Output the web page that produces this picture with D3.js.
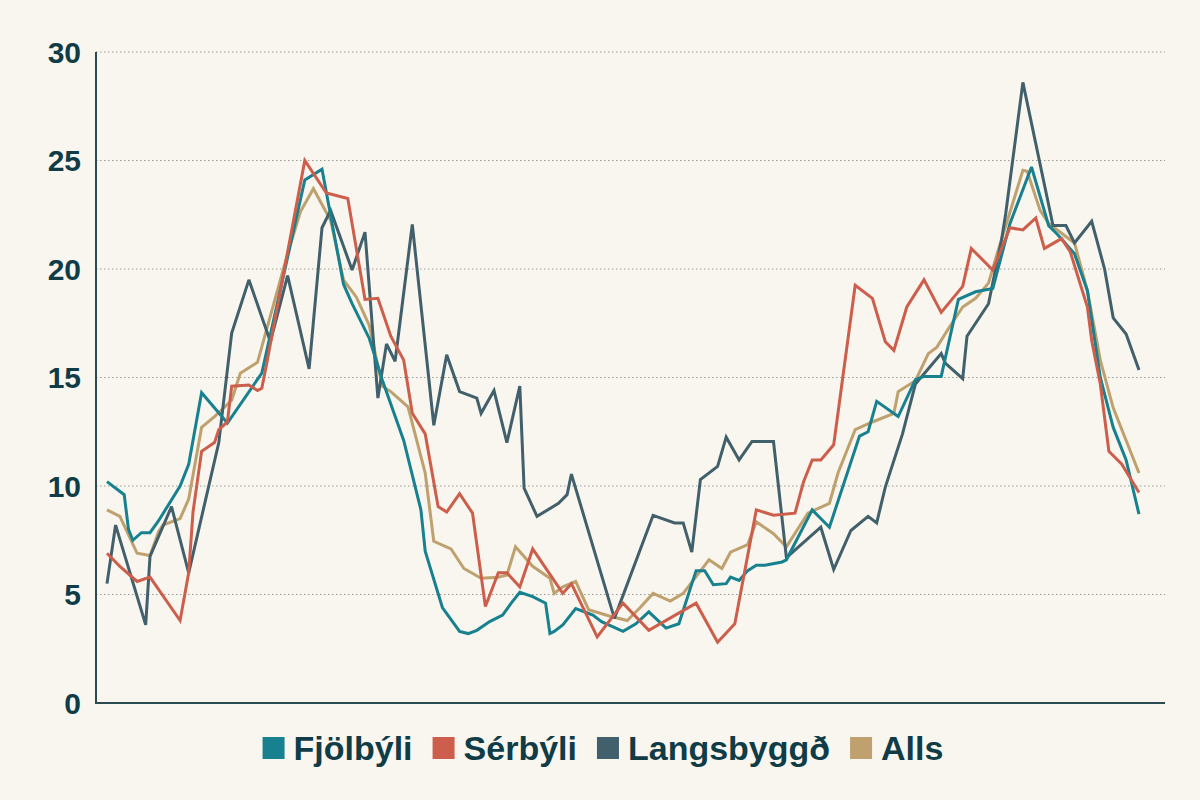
<!DOCTYPE html>
<html>
<head>
<meta charset="utf-8">
<script src="https://cdn.jsdelivr.net/npm/d3@7"></script>
<style>
  html, body { margin: 0; padding: 0; background: #f9f6ef; }
  svg { display: block; }
  .tick-label { font-family: "Liberation Sans", Arial, sans-serif; font-weight: 700; font-size: 30px; fill: #0f3c46; }
  .legend-label { font-family: "Liberation Sans", Arial, sans-serif; font-weight: 700; font-size: 34px; fill: #0f3c46; }
</style>
</head>
<body>
<div id="chart"></div>
<script>
// [period, value] pairs (period = month index, 0..240)
const fjolbyli = [
  [0, 10.2], [4, 9.6], [5, 8.0], [6, 7.5], [8, 7.85], [10, 7.85], [12, 8.4], [17, 10.0], [19, 11.0],
  [22, 14.3], [28, 12.9], [36, 15.2], [46, 24.1], [50, 24.6], [55, 19.3], [57, 18.4], [61, 16.8],
  [64, 14.9], [69, 12.1], [73, 8.9], [74, 7.0], [78, 4.4], [82, 3.3], [84, 3.2], [86, 3.35],
  [89, 3.75], [92, 4.05], [94, 4.6], [96, 5.1], [99, 4.9], [102, 4.6], [103, 3.2], [104, 3.3],
  [106, 3.6], [109, 4.35], [113, 4.05], [115, 3.75], [120, 3.3], [123, 3.65], [126, 4.2],
  [130, 3.45], [133, 3.65], [137, 6.1], [139, 6.1], [141, 5.45], [144, 5.5], [145, 5.8],
  [147, 5.65], [149, 6.1], [151, 6.35], [153, 6.35], [157, 6.5], [158, 6.6], [164, 8.9],
  [168, 8.1], [175, 12.3], [177, 12.5], [179, 13.9], [184, 13.2], [188, 14.9], [190, 15.05],
  [194, 15.05], [198, 18.6], [202, 18.95], [206, 19.1], [210, 22.1], [215, 24.7], [219, 22.0],
  [221, 21.6], [225, 20.7], [228, 19.0], [231, 15.0], [234, 12.7], [237, 11.2], [240, 8.7]
];

const serbyli = [
  [0, 6.9], [3, 6.3], [7, 5.6], [10, 5.8], [17, 3.8], [19, 6.0], [20, 8.8], [22, 11.6], [25, 12.0],
  [26, 12.6], [28, 12.95], [29, 14.6], [33, 14.65], [35, 14.4], [36, 14.5], [37, 15.5], [46, 25.0],
  [51, 23.5], [56, 23.25], [60, 18.6], [63, 18.65], [66, 16.9], [69, 15.8], [71, 13.35], [74, 12.4],
  [77, 9.05], [79, 8.8], [82, 9.65], [85, 8.75], [88, 4.45], [91, 6.0], [93, 6.0], [96, 5.35],
  [99, 7.1], [106, 5.05], [108, 5.5], [114, 3.05], [120, 4.6], [126, 3.35], [137, 4.6], [142, 2.8],
  [146, 3.65], [151, 8.9], [155, 8.65], [160, 8.75], [162, 10.2], [164, 11.2], [166, 11.2],
  [169, 11.9], [174, 19.25], [178, 18.65], [181, 16.65], [183, 16.25], [186, 18.25], [190, 19.5],
  [194, 18.0], [199, 19.2], [201, 20.95], [206, 19.95], [210, 21.9], [213, 21.8], [216, 22.35],
  [218, 20.95], [222, 21.4], [224, 20.8], [228, 18.25], [229, 16.7], [231, 14.7], [233, 11.6],
  [236, 11.0], [240, 9.7]
];

const langsbyggd = [
  [0, 5.5], [2, 8.2], [9, 3.6], [10, 6.75], [15, 9.05], [19, 6.0], [26, 12.0], [29, 17.05],
  [33, 19.5], [38, 16.65], [42, 19.7], [47, 15.4], [50, 21.9], [52, 22.7], [57, 19.95], [60, 21.7],
  [63, 14.05], [65, 16.55], [67, 15.75], [71, 22.05], [76, 12.8], [79, 16.05], [82, 14.35],
  [86, 14.05], [87, 13.35], [90, 14.4], [93, 12.0], [96, 14.6], [97, 9.9], [100, 8.6], [105, 9.2],
  [107, 9.6], [108, 10.55], [118, 3.9], [127, 8.65], [132, 8.3], [134, 8.3], [136, 6.95],
  [138, 10.3], [142, 10.9], [144, 12.25], [147, 11.2], [150, 12.05], [155, 12.05], [158, 6.7],
  [166, 8.1], [169, 6.15], [173, 7.95], [177, 8.6], [179, 8.3], [181, 9.95], [185, 12.4],
  [188, 14.7], [194, 16.1], [195, 15.65], [199, 14.95], [200, 16.9], [203, 17.8], [205, 18.4],
  [208, 21.3], [209, 22.55], [213, 28.6], [220, 22.0], [223, 22.0], [225, 21.2], [229, 22.2],
  [232, 20.0], [234, 17.75], [237, 17.0], [240, 15.35]
];

const alls = [
  [0, 8.9], [3, 8.6], [7, 6.9], [10, 6.8], [12, 7.9], [13, 8.2], [17, 8.5], [19, 9.4], [22, 12.7],
  [25, 13.2], [29, 13.95], [31, 15.2], [35, 15.7], [42, 20.7], [45, 22.65], [48, 23.7], [52, 22.25],
  [55, 19.5], [58, 18.7], [61, 17.4], [64, 14.6], [66, 14.35], [70, 13.65], [74, 10.6], [76, 7.45],
  [80, 7.1], [83, 6.2], [87, 5.75], [91, 5.8], [93, 5.9], [95, 7.2], [99, 6.3], [103, 5.75],
  [104, 5.05], [106, 5.35], [109, 5.6], [112, 4.3], [117, 4.0], [121, 3.8], [124, 4.4], [127, 5.05],
  [131, 4.7], [134, 5.05], [140, 6.6], [143, 6.2], [145, 6.95], [149, 7.3], [151, 8.35], [155, 7.8],
  [158, 7.2], [163, 8.75], [168, 9.2], [170, 10.6], [174, 12.6], [178, 12.95], [183, 13.35],
  [184, 14.35], [188, 14.85], [191, 16.1], [193, 16.4], [196, 17.35], [199, 18.25], [202, 18.65],
  [205, 19.35], [207, 20.7], [213, 24.55], [214, 24.5], [217, 22.7], [219, 22.1], [221, 21.8],
  [225, 21.2], [228, 19.0], [231, 15.8], [234, 13.6], [240, 10.6]
];

const seriesNames = ["Fjölbýli", "Sérbýli", "Langsbyggð", "Alls"];
const seriesColors = ["#17818f", "#cc5e4b", "#41606b", "#bea16e"];
const yTicks = [0, 5, 10, 15, 20, 25, 30];

const width = 1200;
const height = 800;
const plot = { left: 96, right: 1165, top: 52, bottom: 703 };

const svg = d3.select("#chart")
  .append("svg")
  .attr("width", width)
  .attr("height", height);

svg.append("rect")
  .attr("width", width)
  .attr("height", height)
  .attr("fill", "#f9f6ef");

const x = d3.scaleLinear().domain([0, 240]).range([107, 1139]);
const y = d3.scaleLinear().domain([0, 30]).range([plot.bottom, plot.top]);

// gridlines
svg.append("g")
  .selectAll("line")
  .data(yTicks.filter(d => d > 0))
  .join("line")
  .attr("x1", plot.left)
  .attr("x2", plot.right)
  .attr("y1", d => y(d))
  .attr("y2", d => y(d))
  .attr("stroke", "#9a9a94")
  .attr("stroke-width", 1)
  .attr("stroke-dasharray", "1.5,2.5");

// y tick labels
svg.append("g")
  .selectAll("text")
  .data(yTicks)
  .join("text")
  .attr("class", "tick-label")
  .attr("x", 81)
  .attr("y", d => y(d))
  .attr("dy", "0.36em")
  .attr("text-anchor", "end")
  .text(d => d);

// axes lines
svg.append("line")
  .attr("x1", plot.left).attr("x2", plot.left)
  .attr("y1", plot.top).attr("y2", plot.bottom)
  .attr("stroke", "#2b4a52").attr("stroke-width", 2);

svg.append("line")
  .attr("x1", plot.left - 1).attr("x2", plot.right)
  .attr("y1", plot.bottom).attr("y2", plot.bottom)
  .attr("stroke", "#2b4a52").attr("stroke-width", 2);

const line = d3.line()
  .x(d => x(d[0]))
  .y(d => y(d[1]));

const allSeries = [fjolbyli, serbyli, langsbyggd, alls];
const drawOrder = [3, 2, 0, 1];

svg.append("g")
  .selectAll("path")
  .data(drawOrder)
  .join("path")
  .attr("d", i => line(allSeries[i]))
  .attr("fill", "none")
  .attr("stroke", i => seriesColors[i])
  .attr("stroke-width", 3)
  .attr("stroke-linejoin", "miter")
  .attr("stroke-miterlimit", 3);

// legend
const legend = svg.append("g").attr("transform", "translate(0,748)");
const items = legend.selectAll("g")
  .data(seriesNames)
  .join("g");

items.append("rect")
  .attr("y", -11)
  .attr("width", 22)
  .attr("height", 22)
  .attr("fill", (d, i) => seriesColors[i]);

items.append("text")
  .attr("class", "legend-label")
  .attr("x", 31)
  .attr("y", 0)
  .attr("dy", "0.36em")
  .text(d => d);

const widths = [];
items.each(function() {
  widths.push(this.getBBox().width);
});
const gap = 20;
const total = d3.sum(widths) + gap * (widths.length - 1);
let cursor = width / 2 - total / 2 + 3;
items.attr("transform", (d, i) => {
  const tx = cursor;
  cursor += widths[i] + gap;
  return `translate(${tx},0)`;
});
</script>
</body>
</html>
